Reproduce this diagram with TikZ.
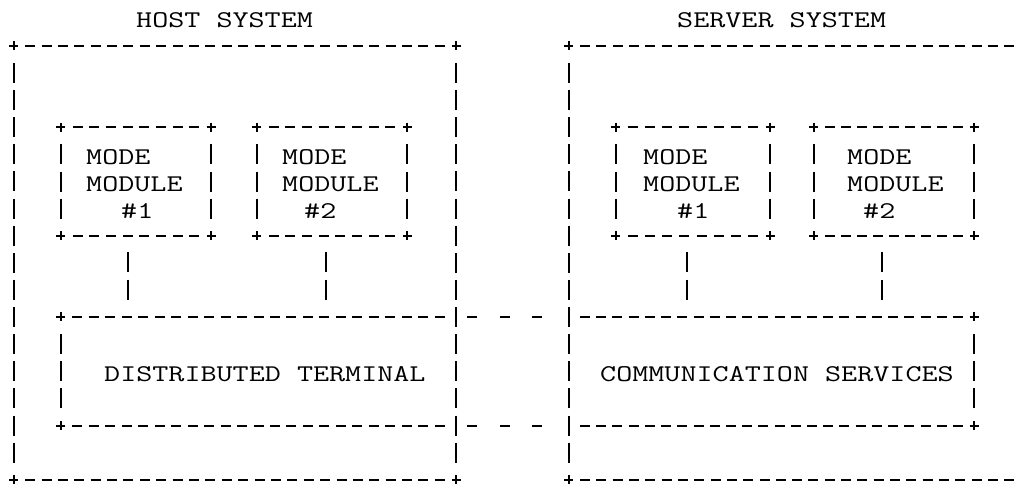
\documentclass[tikz,border=0pt]{standalone}
\usetikzlibrary{calc,fit}
\usepackage{graphicx}
\tikzset{
  seg/.style={line width=1.8pt, black},
  box/.style={inner sep=0pt, draw=none, rectangle},
  txt/.style={inner sep=0pt, anchor=base west, font=\ttfamily\fontsize{24}{27}\selectfont},
  conn/.style={seg, dash pattern=on 0pt off 16.55pt on 20pt off 7.1pt on 20pt off 40pt},
  gapconn/.style={seg, dash pattern=on 0pt off 11.1pt on 10pt off 22.3pt on 10pt off 22.3pt on 10pt off 40pt},
}
\newcommand\wt[1]{\scalebox{1.30}[1]{#1}}
\newcommand\hd[3]{\pgfmathtruncatemacro\hdn{#3-1}\foreach \i in {1,...,\hdn}{\draw[seg] ($(#1)!{\i/#3}!(#2)$) +(-5,0) -- +(5,0);}}
\newcommand\vd[3]{\pgfmathtruncatemacro\vdn{#3-1}\foreach \i in {1,...,\vdn}{\draw[seg] ($(#1)!{\i/#3}!(#2)$) +(0,-10) -- +(0,10);}}
\newcommand\pl[1]{\draw[seg] (#1) +(-4.5,0) -- +(4.5,0) +(0,-4.5) -- +(0,4.5);}
\newcommand\fullbox[3]{\pl{#1.north west}\pl{#1.north east}\pl{#1.south west}\pl{#1.south east}%
  \hd{#1.north west}{#1.north east}{#2}\hd{#1.south west}{#1.south east}{#2}%
  \vd{#1.north west}{#1.south west}{#3}\vd{#1.north east}{#1.south east}{#3}}
\begin{document}
\begin{tikzpicture}[x=1pt,y=-1pt]
\useasboundingbox (0,0) rectangle (1022,484);
% titles
\node[txt] (hostT) at (136,28) {\wt{HOST SYSTEM}};
\node[txt] (servT) at (677,28) {\wt{SERVER SYSTEM}};
% boxes
\node[box, fit={(14,46) (456,479.6)}] (host) {};
\node[box, fit={(569,46) (1025.3,479.6)}] (server) {};
\node[box, fit={(61,127.3) (211,235.7)}] (hm1) {};
\node[box, fit={(257,127.3) (407,235.7)}] (hm2) {};
\node[box, fit={(616,127.3) (770,235.7)}] (sm1) {};
\node[box, fit={(814,127.3) (974,235.7)}] (sm2) {};
\node[box, fit={(61,317) (456,425.4)}] (dist) {};
\node[box, fit={(569,317) (974,425.4)}] (comm) {};
% host outline
\fullbox{host}{27}{16}
% server outline (open on the right)
\pl{server.north west}\pl{server.south west}
\hd{server.north west}{server.north east}{28}
\hd{server.south west}{server.south east}{28}
\vd{server.north west}{server.south west}{16}
% mode modules
\fullbox{hm1}{9}{4}
\fullbox{hm2}{9}{4}
\fullbox{sm1}{9}{4}
\fullbox{sm2}{10}{4}
% distributed terminal (right side is host side)
\pl{dist.north west}\pl{dist.south west}
\hd{dist.north west}{dist.north east}{24}
\hd{dist.south west}{dist.south east}{24}
\vd{dist.north west}{dist.south west}{4}
% communication services (left side is server side)
\pl{comm.north east}\pl{comm.south east}
\hd{comm.north west}{comm.north east}{25}
\hd{comm.south west}{comm.south east}{25}
\vd{comm.north east}{comm.south east}{4}
% texts
\node[txt] (hm1a) at (86,164.4) {\wt{MODE}};
\node[txt] (hm1b) at (86,191.5) {\wt{MODULE}};
\node[txt] (hm1c) at (121,218.6) {\wt{\#1}};
\node[txt] (hm2a) at (282,164.4) {\wt{MODE}};
\node[txt] (hm2b) at (282,191.5) {\wt{MODULE}};
\node[txt] (hm2c) at (304,218.6) {\wt{\#2}};
\node[txt] (sm1a) at (643,164.4) {\wt{MODE}};
\node[txt] (sm1b) at (643,191.5) {\wt{MODULE}};
\node[txt] (sm1c) at (677,218.6) {\wt{\#1}};
\node[txt] (sm2a) at (847,164.4) {\wt{MODE}};
\node[txt] (sm2b) at (847,191.5) {\wt{MODULE}};
\node[txt] (sm2c) at (863,218.6) {\wt{\#2}};
\node[txt] (distT) at (104,381.2) {\wt{DISTRIBUTED TERMINAL}};
\node[txt] (commT) at (600,381.2) {\wt{COMMUNICATION SERVICES}};
% connectors
\coordinate (c1) at ([xshift=-8pt]hm1.south);
\coordinate (c2) at ([xshift=-6pt]hm2.south);
\coordinate (c3) at ([xshift=-6pt]sm1.south);
\coordinate (c4) at ([xshift=-12pt]sm2.south);
\draw[conn] (c1) -- (c1 |- dist.north);
\draw[conn] (c2) -- (c2 |- dist.north);
\draw[conn] (c3) -- (c3 |- comm.north);
\draw[conn] (c4) -- (c4 |- comm.north);
\draw[gapconn] (dist.north east) -- (comm.north west);
\draw[gapconn] (dist.south east) -- (comm.south west);
\end{tikzpicture}
\end{document}
